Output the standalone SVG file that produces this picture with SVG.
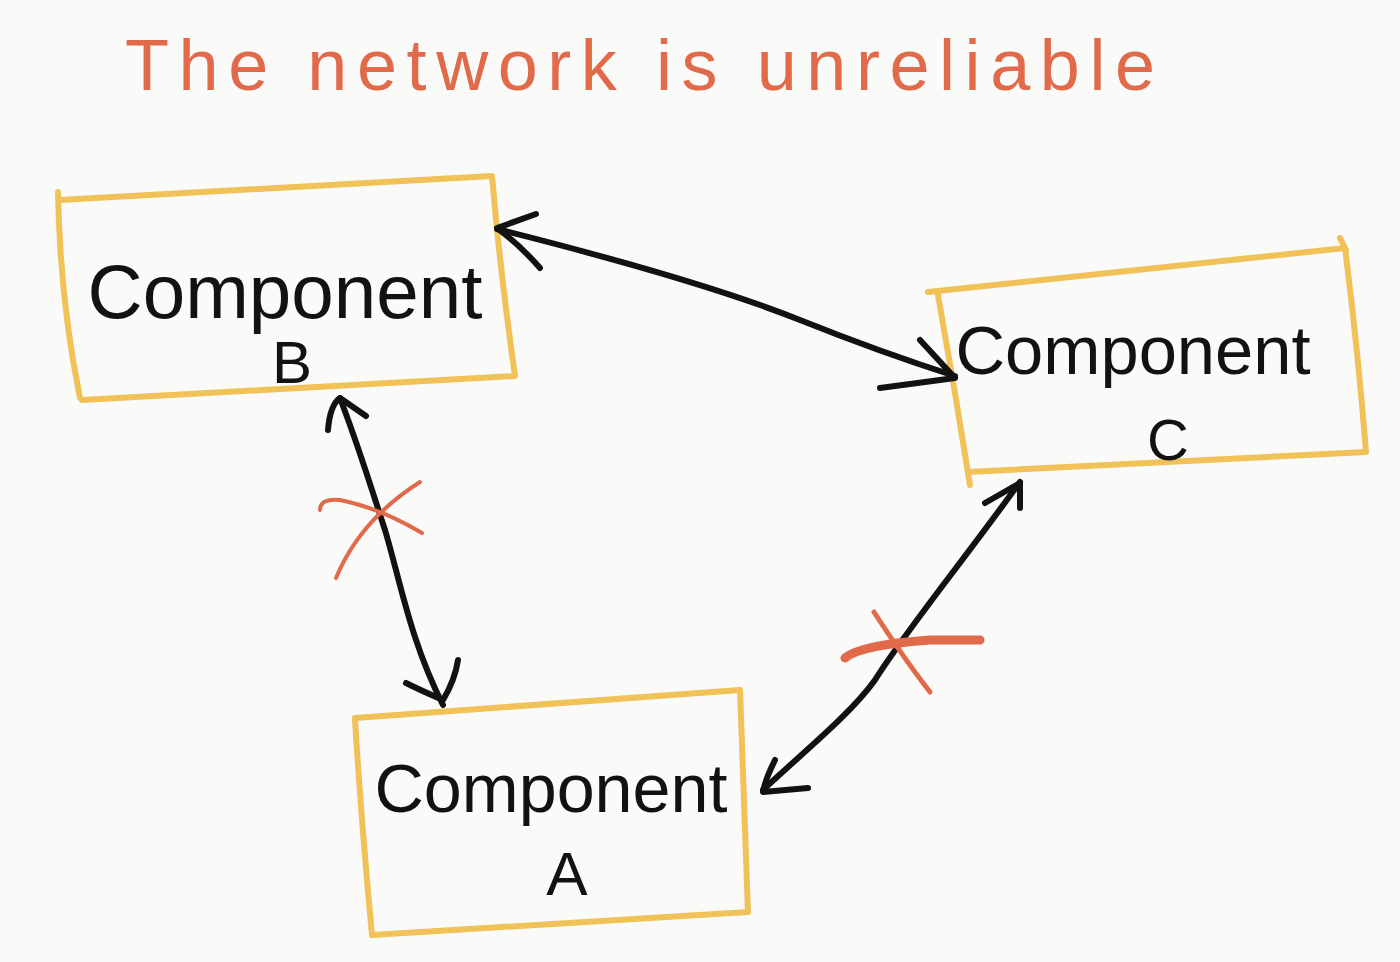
<svg xmlns="http://www.w3.org/2000/svg" width="1400" height="962" viewBox="0 0 1400 962">
<style>
.box{fill:none;stroke:#f0c257;stroke-width:6;stroke-linecap:round;stroke-linejoin:round}
.ink{fill:none;stroke:#121210;stroke-width:6;stroke-linecap:round;stroke-linejoin:round}
.red{fill:none;stroke:#e06a4a;stroke-width:4;stroke-linecap:round;stroke-linejoin:round}
.thick{stroke-width:9}
.mid{stroke-width:5}
.lbl{font-family:"Liberation Sans","DejaVu Sans",sans-serif;fill:#121210;text-anchor:middle}
.title{font-family:"Liberation Sans","DejaVu Sans",sans-serif;fill:#e06a4a;font-size:72px}
</style>
<rect width="1400" height="962" fill="#fafaf9"/>
<text class="title" x="125" y="90" textLength="1030" lengthAdjust="spacing">The network is unreliable</text>
<g id="nodeB">
<path class="box" d="M58 192 Q60 300 80 398 M60 200 L492 176 Q500 270 515 376 L82 400"/>
<text class="lbl" x="285" y="318" font-size="76" textLength="395" lengthAdjust="spacingAndGlyphs">Component</text>
<text class="lbl" x="292" y="383" font-size="60">B</text>
</g>
<g id="nodeC">
<path class="box" d="M928 292 L1345 248 Q1358 350 1366 452 L968 472 M938 295 Q955 390 970 485 M1340 238 L1346 250"/>
<text class="lbl" x="1133" y="374" font-size="69" textLength="355" lengthAdjust="spacingAndGlyphs">Component</text>
<text class="lbl" x="1168" y="460" font-size="58">C</text>
</g>
<g id="nodeA">
<path class="box" d="M355 720 Q362 830 372 935 M355 718 L740 690 Q744 800 748 912 L372 935"/>
<text class="lbl" x="551" y="812" font-size="68" textLength="353" lengthAdjust="spacingAndGlyphs">Component</text>
<text class="lbl" x="567" y="895" font-size="62">A</text>
</g>
<g id="connectors">
<path class="ink" d="M497 229 Q700 280 800 320 Q880 352 955 376"/>
<path class="ink" d="M536 214 L497 228 Q520 245 540 268"/>
<path class="ink" d="M920 340 L955 378 L880 388"/>
<path class="ink" d="M340 398 C360 450 375 500 385 530 C400 580 410 640 443 705"/>
<path class="ink" d="M328 430 Q330 405 340 398 L366 416"/>
<path class="ink" d="M406 683 Q420 690 443 700 Q455 680 458 660"/>
<path class="ink" d="M1020 482 C960 565 905 632 875 680 C850 715 800 755 763 790"/>
<path class="ink" d="M985 503 L1020 483 L1020 508"/>
<path class="ink" d="M775 760 Q765 780 763 792 L808 788"/>
<path class="red" d="M320 510 Q320 498 340 500 Q380 508 422 533"/>
<path class="red" d="M336 578 Q360 520 420 482"/>
<path class="red thick" d="M845 658 Q860 645 930 640 L980 640"/>
<path class="red mid" d="M874 612 Q905 660 930 692"/>
</g>
</svg>
